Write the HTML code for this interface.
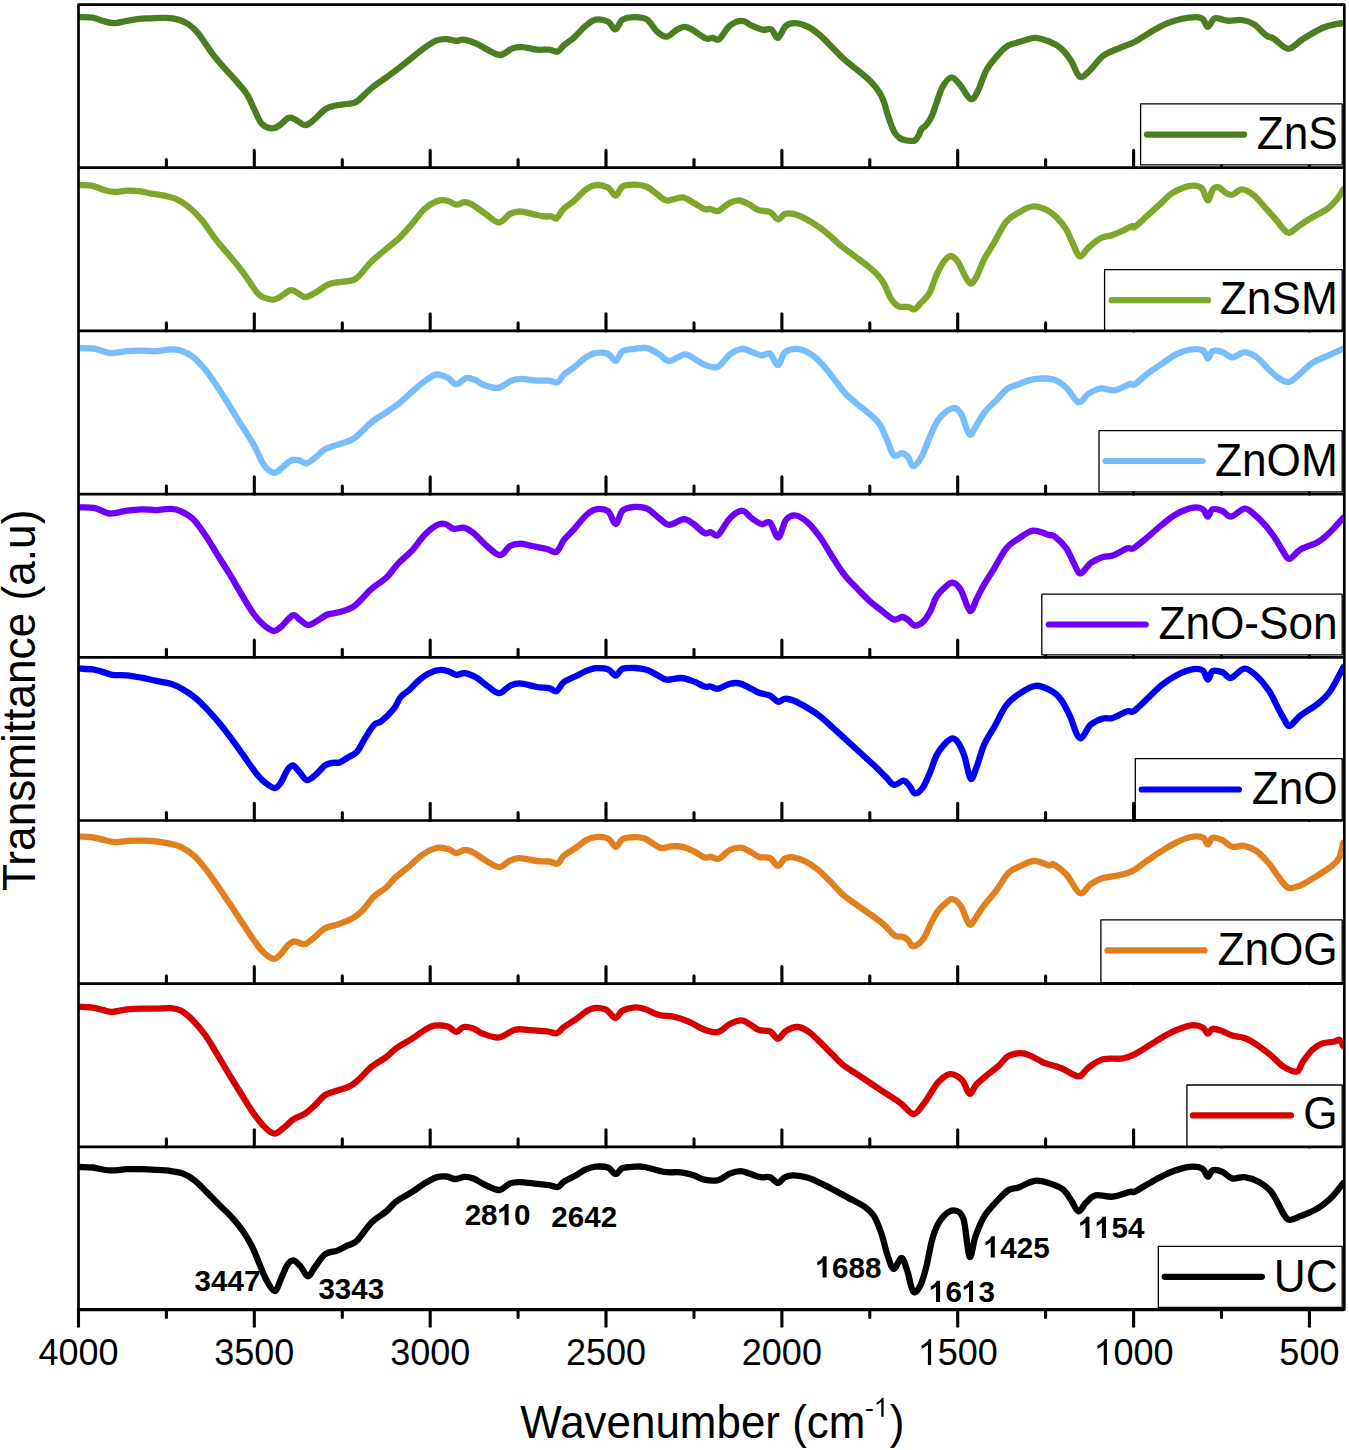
<!DOCTYPE html>
<html><head><meta charset="utf-8"><title>FTIR spectra</title>
<style>
html,body{margin:0;padding:0;background:#fff;}
body{width:1349px;height:1450px;overflow:hidden;}
svg{display:block;font-family:"Liberation Sans",sans-serif;}
</style></head><body>
<svg width="1349" height="1450" viewBox="0 0 1349 1450">
<rect width="1349" height="1450" fill="#fff"/>
<defs><clipPath id="pc"><rect x="78.5" y="4.6" width="1264.8" height="1305"/></clipPath></defs>

<g class="curves" clip-path="url(#pc)" fill="none" stroke-linejoin="round" stroke-linecap="round" stroke-width="6.3">
<path stroke="#4a7e20" d="M79.5 17.1 C81.7 17.2 88.9 17.0 92.7 17.6 C96.5 18.2 99.0 19.9 102.5 20.8 C106.0 21.7 109.4 23.2 113.5 23.2 C117.6 23.2 122.6 21.5 126.9 20.8 C131.2 20.1 135.1 19.2 139.2 18.8 C143.3 18.4 146.9 18.5 151.4 18.3 C155.9 18.1 161.6 17.7 166.1 17.9 C170.6 18.1 174.6 18.6 178.3 19.6 C182.0 20.6 184.8 21.8 188.1 24.0 C191.4 26.2 193.8 28.0 197.9 33.0 C202.0 38.0 208.0 47.9 212.5 53.8 C217.0 59.7 220.7 63.8 224.8 68.5 C228.9 73.2 233.3 77.6 237.0 81.9 C240.7 86.2 244.0 89.7 246.8 94.2 C249.7 98.7 251.7 104.0 254.1 108.9 C256.6 113.8 258.6 120.2 261.5 123.5 C264.4 126.8 268.3 128.0 271.2 128.4 C274.1 128.8 275.7 127.8 278.6 126.0 C281.5 124.2 285.8 119.1 288.4 117.9 C291.0 116.8 291.6 117.9 294.5 119.1 C297.4 120.3 302.0 125.3 305.5 125.2 C309.0 125.1 312.0 121.2 315.3 118.6 C318.6 115.9 321.9 111.4 325.1 109.3 C328.4 107.2 331.1 106.6 334.8 105.7 C338.5 104.8 343.4 104.7 347.1 104.0 C350.8 103.3 352.8 104.2 356.9 101.5 C361.0 98.8 366.2 92.4 371.5 88.1 C376.8 83.8 383.9 79.3 388.7 75.8 C393.4 72.3 396.1 70.3 400.0 67.3 C403.9 64.2 408.1 60.8 412.2 57.5 C416.3 54.2 420.4 50.6 424.5 47.7 C428.6 44.9 433.0 41.8 436.7 40.4 C440.4 39.0 443.2 39.0 446.5 39.1 C449.8 39.2 453.4 40.8 456.3 40.9 C459.2 41.0 460.4 39.2 463.6 39.6 C466.9 40.0 471.7 41.5 475.8 43.3 C479.9 45.0 484.0 48.1 488.1 50.1 C492.2 52.1 496.2 55.3 500.3 55.0 C504.4 54.7 508.8 49.7 512.5 48.4 C516.2 47.1 518.2 47.0 522.3 47.2 C526.4 47.4 532.5 49.3 537.0 49.7 C541.5 50.1 545.7 49.4 549.2 49.7 C552.7 50.0 555.3 52.1 557.8 51.4 C560.2 50.7 561.2 47.5 563.9 45.3 C566.5 43.0 570.0 41.2 573.7 37.9 C577.4 34.6 582.2 28.8 585.9 25.7 C589.6 22.6 592.0 20.3 595.7 19.6 C599.4 18.9 604.6 19.9 607.9 21.5 C611.2 23.1 612.8 29.7 615.3 29.4 C617.8 29.1 619.4 21.7 622.6 19.6 C625.9 17.6 630.7 17.1 634.8 17.1 C638.9 17.1 643.4 17.2 647.1 19.6 C650.8 22.0 653.5 28.4 656.8 31.3 C660.0 34.1 663.3 36.9 666.6 36.7 C669.9 36.5 673.3 31.7 676.4 30.1 C679.5 28.5 682.1 26.8 685.0 26.9 C687.9 27.0 690.0 28.7 693.5 30.6 C697.0 32.5 702.5 37.2 705.8 38.4 C709.1 39.6 710.9 37.8 713.1 37.9 C715.3 38.0 716.4 41.1 719.2 39.1 C722.0 37.1 726.0 28.8 729.8 25.7 C733.6 22.6 738.3 20.8 742.0 20.8 C745.7 20.8 748.3 24.2 751.8 25.7 C755.3 27.2 759.5 29.2 762.8 29.8 C766.1 30.4 768.9 28.0 771.4 29.4 C773.9 30.8 775.6 38.5 778.0 37.9 C780.4 37.3 783.0 28.1 786.0 25.7 C789.0 23.2 792.1 23.0 795.8 23.2 C799.5 23.4 804.0 24.8 808.1 26.9 C812.2 28.9 816.2 32.0 820.3 35.5 C824.4 39.0 828.4 43.6 832.5 47.7 C836.6 51.8 840.7 56.2 844.8 59.9 C848.9 63.6 852.9 66.4 857.0 69.7 C861.1 73.0 865.5 76.3 869.2 80.0 C872.9 83.7 876.6 88.2 879.0 91.7 C881.4 95.2 882.1 97.4 883.6 101.2 C885.1 105.0 886.3 110.5 887.7 114.8 C889.1 119.0 890.6 123.5 891.9 126.7 C893.2 129.9 894.1 131.9 895.4 133.8 C896.7 135.7 897.9 136.9 899.6 138.0 C901.3 139.1 903.6 139.8 905.5 140.3 C907.4 140.8 909.2 140.9 910.8 140.9 C912.4 140.9 913.7 141.2 915.0 140.3 C916.3 139.4 917.5 137.5 918.6 135.6 C919.7 133.7 920.4 130.7 921.5 129.1 C922.6 127.5 923.8 127.5 925.1 126.1 C926.4 124.7 927.9 122.9 929.2 120.8 C930.5 118.7 931.6 116.5 932.8 113.6 C934.0 110.7 934.7 108.1 936.3 103.6 C937.9 99.1 940.1 91.1 942.6 86.8 C945.1 82.5 948.4 77.9 951.2 77.5 C954.1 77.1 956.5 80.8 959.7 84.4 C963.0 88.0 967.6 98.1 970.7 99.1 C973.8 100.1 975.5 95.4 978.1 90.5 C980.8 85.6 983.1 75.8 986.6 69.7 C990.1 63.6 995.2 57.9 998.9 53.8 C1002.6 49.7 1004.9 47.3 1008.6 45.3 C1012.3 43.3 1016.6 42.9 1020.9 41.6 C1025.2 40.4 1029.9 37.8 1034.6 37.8 C1039.3 37.8 1044.8 39.7 1049.3 41.5 C1053.8 43.3 1057.8 45.5 1061.5 48.8 C1065.2 52.0 1068.2 56.3 1071.2 61.0 C1074.2 65.7 1076.8 75.2 1079.8 76.8 C1082.8 78.4 1085.7 74.2 1089.5 70.7 C1093.3 67.2 1098.2 59.8 1102.9 56.1 C1107.6 52.5 1112.3 51.1 1117.6 48.8 C1122.9 46.4 1129.3 44.6 1134.6 42.0 C1139.9 39.4 1144.0 35.9 1149.3 32.9 C1154.6 29.8 1161.0 26.0 1166.3 23.7 C1171.6 21.4 1176.1 20.1 1181.0 19.0 C1185.9 17.9 1191.9 17.1 1195.6 17.1 C1199.2 17.1 1200.9 17.4 1202.9 19.0 C1204.9 20.6 1205.8 26.9 1207.8 26.8 C1209.8 26.7 1211.8 19.3 1215.1 18.3 C1218.3 17.3 1222.8 20.4 1227.3 20.7 C1231.8 21.0 1237.5 19.4 1242.0 20.0 C1246.5 20.6 1250.0 21.8 1254.1 24.4 C1258.1 27.0 1263.0 33.0 1266.3 35.4 C1269.6 37.8 1270.0 36.3 1273.7 38.5 C1277.4 40.7 1283.4 48.7 1288.3 48.8 C1293.2 48.9 1297.2 42.5 1302.9 39.0 C1308.6 35.5 1316.7 30.5 1322.4 28.0 C1328.1 25.5 1333.6 24.7 1337.1 23.9 C1340.6 23.1 1342.2 23.3 1343.2 23.2"/>
<path stroke="#7ea72c" d="M80.4 185.1 C82.5 185.2 88.6 185.0 92.7 185.8 C96.8 186.7 101.2 189.2 104.9 190.2 C108.6 191.2 111.0 191.8 114.7 191.9 C118.4 192.0 122.8 190.8 126.9 190.7 C131.0 190.6 135.1 190.7 139.2 191.2 C143.3 191.7 146.9 192.8 151.4 193.6 C155.9 194.4 161.6 195.0 166.1 196.1 C170.6 197.2 174.2 197.9 178.3 200.0 C182.4 202.1 186.4 204.9 190.5 208.5 C194.6 212.1 198.7 216.3 202.8 221.3 C206.9 226.3 210.9 233.1 215.0 238.4 C219.1 243.7 223.1 248.2 227.2 253.1 C231.3 258.0 235.8 263.0 239.5 267.7 C243.2 272.4 245.9 276.7 249.2 281.2 C252.4 285.7 255.3 291.6 259.0 294.6 C262.7 297.7 267.9 299.0 271.2 299.5 C274.5 300.0 275.3 299.4 278.6 297.8 C281.9 296.2 287.5 290.9 290.8 290.2 C294.1 289.5 295.8 292.2 298.2 293.4 C300.6 294.5 302.6 297.2 305.5 297.1 C308.4 297.0 311.6 294.7 315.3 292.7 C319.0 290.7 323.8 286.6 327.5 284.9 C331.2 283.2 334.0 283.0 337.3 282.4 C340.6 281.8 343.8 281.9 347.1 281.2 C350.4 280.5 352.8 281.3 356.9 278.0 C361.0 274.7 366.2 266.8 371.5 261.6 C376.8 256.4 383.9 251.0 388.7 246.9 C393.4 242.8 396.1 241.1 400.0 237.2 C403.9 233.3 408.1 228.4 412.2 223.7 C416.3 219.0 420.4 212.8 424.5 209.0 C428.6 205.2 433.0 202.6 436.7 201.2 C440.4 199.8 443.2 199.9 446.5 200.5 C449.8 201.1 453.2 204.3 456.3 204.6 C459.4 204.9 462.0 202.1 464.8 202.2 C467.6 202.3 469.9 203.4 473.4 205.4 C476.9 207.4 481.3 211.1 485.6 213.9 C489.9 216.8 495.0 222.5 499.1 222.5 C503.2 222.5 506.6 215.7 510.1 213.9 C513.6 212.1 516.2 211.5 519.9 211.5 C523.6 211.5 528.0 213.1 532.1 213.9 C536.2 214.7 541.0 216.0 544.3 216.4 C547.6 216.8 549.7 216.1 551.7 216.4 C553.8 216.7 554.6 219.6 556.6 218.3 C558.6 217.0 561.0 211.3 563.9 208.5 C566.8 205.7 570.0 204.4 573.7 201.2 C577.4 198.0 582.2 192.2 585.9 189.5 C589.6 186.8 592.0 185.4 595.7 185.1 C599.4 184.8 604.5 185.8 607.9 187.5 C611.2 189.2 613.3 195.8 615.8 195.6 C618.2 195.4 619.4 188.3 622.6 186.5 C625.8 184.7 630.7 184.5 634.8 184.6 C638.9 184.7 643.4 185.4 647.1 187.0 C650.8 188.6 653.5 191.7 656.8 193.9 C660.0 196.2 662.3 199.9 666.6 200.5 C670.9 201.1 678.0 196.9 682.5 197.3 C687.0 197.7 689.8 201.0 693.5 202.9 C697.2 204.8 701.6 208.0 704.5 209.0 C707.4 210.0 708.5 208.7 710.7 209.0 C713.0 209.3 714.8 212.0 718.0 211.0 C721.2 210.0 726.2 204.7 729.8 202.9 C733.4 201.2 736.3 200.2 739.6 200.5 C742.9 200.8 746.1 203.0 749.4 204.6 C752.6 206.2 755.6 209.1 759.1 210.3 C762.6 211.5 767.0 210.5 770.1 212.0 C773.2 213.5 775.5 219.0 778.0 219.3 C780.5 219.6 782.2 214.8 784.8 213.9 C787.4 213.0 789.9 213.1 793.4 213.9 C796.9 214.7 801.5 216.8 805.6 218.8 C809.7 220.9 813.7 223.3 817.8 226.2 C821.9 229.0 826.0 232.4 830.1 235.9 C834.2 239.4 838.2 243.6 842.3 246.9 C846.4 250.2 850.4 252.9 854.5 256.0 C858.6 259.1 863.1 262.3 866.8 265.3 C870.5 268.3 873.8 270.8 876.6 273.9 C879.5 276.9 881.5 279.4 883.9 283.6 C886.3 287.8 888.8 295.3 891.2 299.1 C893.7 302.9 895.7 305.1 898.6 306.4 C901.5 307.7 905.8 306.4 908.4 306.9 C911.0 307.4 912.5 309.9 914.5 309.3 C916.5 308.7 918.1 305.9 920.6 303.2 C923.1 300.5 926.6 298.1 929.2 293.4 C931.9 288.7 934.1 280.4 936.5 275.1 C938.9 269.8 941.3 264.8 943.8 261.6 C946.2 258.4 948.8 255.8 951.2 256.0 C953.7 256.2 956.3 259.6 958.5 262.8 C960.7 266.0 962.6 271.6 964.6 275.1 C966.6 278.6 968.7 283.4 970.7 283.6 C972.7 283.8 974.5 280.4 976.8 276.3 C979.0 272.2 981.3 264.8 984.2 259.2 C987.1 253.6 990.3 249.0 994.0 242.8 C997.7 236.6 1002.1 226.8 1006.2 221.8 C1010.3 216.8 1014.1 215.2 1018.4 212.7 C1022.7 210.1 1027.9 207.1 1032.2 206.5 C1036.5 205.9 1040.3 207.1 1044.4 208.9 C1048.5 210.7 1052.9 214.0 1056.6 217.4 C1060.2 220.8 1063.4 224.9 1066.3 229.6 C1069.2 234.3 1071.5 241.0 1073.7 245.5 C1076.0 250.0 1077.4 256.1 1079.8 256.5 C1082.2 256.9 1084.8 251.0 1088.3 247.9 C1091.8 244.8 1096.4 240.3 1100.5 238.2 C1104.6 236.0 1108.6 236.4 1112.7 235.0 C1116.8 233.6 1121.7 231.1 1124.9 229.6 C1128.2 228.1 1130.6 226.4 1132.2 226.0 C1133.8 225.6 1132.2 228.8 1134.6 227.2 C1137.0 225.6 1142.7 219.9 1146.8 216.2 C1150.9 212.5 1154.9 208.9 1159.0 205.2 C1163.1 201.5 1167.1 196.7 1171.2 193.8 C1175.3 190.9 1179.7 189.0 1183.4 187.7 C1187.1 186.3 1190.2 185.6 1193.2 185.7 C1196.2 185.8 1199.3 185.8 1201.7 188.2 C1204.1 190.6 1206.0 200.2 1207.8 200.4 C1209.6 200.6 1210.9 191.6 1212.7 189.4 C1214.5 187.2 1216.6 186.8 1218.8 187.4 C1221.0 188.0 1223.9 191.8 1226.1 193.0 C1228.3 194.2 1229.5 195.4 1232.2 194.8 C1234.9 194.2 1238.3 189.3 1242.0 189.4 C1245.7 189.5 1250.0 192.2 1254.1 195.5 C1258.1 198.8 1262.6 204.8 1266.3 208.9 C1270.0 213.0 1273.2 216.6 1276.1 219.9 C1278.9 223.2 1281.2 226.8 1283.4 228.9 C1285.6 231.1 1286.7 233.5 1289.5 232.8 C1292.3 232.1 1296.6 227.4 1300.5 224.8 C1304.4 222.2 1308.2 219.7 1312.7 217.0 C1317.2 214.3 1323.2 211.9 1327.3 208.9 C1331.4 205.9 1334.4 202.3 1337.1 199.1 C1339.8 195.8 1342.2 191.0 1343.2 189.4"/>
<path stroke="#78befc" d="M80.4 348.1 C82.9 348.2 90.2 348.0 95.1 348.8 C100.0 349.6 104.5 352.6 109.8 353.0 C115.1 353.4 121.6 351.6 126.9 351.2 C132.2 350.8 136.7 350.7 141.6 350.7 C146.5 350.7 151.4 351.4 156.3 351.2 C161.2 351.0 166.9 349.4 171.0 349.3 C175.1 349.2 177.0 349.2 180.7 350.5 C184.4 351.8 188.9 353.7 193.0 356.9 C197.1 360.1 201.1 364.6 205.2 369.6 C209.3 374.6 213.3 380.6 217.4 386.7 C221.5 392.8 225.6 399.8 229.7 406.3 C233.8 412.8 237.8 419.3 241.9 425.8 C246.0 432.3 250.4 438.9 254.1 445.4 C257.8 451.9 260.6 460.4 263.9 465.0 C267.2 469.6 270.8 472.2 273.7 472.8 C276.6 473.4 278.1 470.7 281.0 468.7 C283.9 466.7 287.9 462.0 290.8 460.6 C293.7 459.2 295.6 459.7 298.2 460.1 C300.8 460.6 303.8 463.7 306.7 463.3 C309.6 462.9 312.2 460.0 315.3 457.6 C318.4 455.2 321.4 451.2 325.1 449.1 C328.8 447.0 332.4 446.7 337.3 444.9 C342.2 443.1 348.7 441.9 354.4 438.1 C360.1 434.3 366.2 426.5 371.5 422.2 C376.8 417.9 381.4 415.7 386.2 412.4 C390.9 409.1 395.7 406.1 400.0 402.6 C404.3 399.1 408.1 395.2 412.2 391.6 C416.3 388.1 420.4 384.2 424.5 381.3 C428.6 378.4 432.6 374.9 436.7 374.5 C440.8 374.1 445.6 377.0 448.9 378.6 C452.2 380.2 453.4 384.4 456.3 384.3 C459.2 384.2 462.8 378.8 466.0 378.1 C469.2 377.4 472.9 379.0 475.8 380.1 C478.7 381.2 479.5 383.5 483.2 384.8 C486.9 386.1 493.3 388.5 497.8 387.9 C502.3 387.3 506.4 382.8 510.1 381.3 C513.8 379.8 515.4 379.0 519.9 378.9 C524.4 378.8 532.1 380.3 537.0 380.6 C541.9 380.9 545.7 380.3 549.2 380.6 C552.7 380.9 555.3 383.3 557.8 382.3 C560.2 381.3 561.2 376.9 563.9 374.5 C566.5 372.1 570.0 370.5 573.7 367.6 C577.4 364.8 582.2 359.8 585.9 357.4 C589.6 355.0 592.0 353.6 595.7 353.0 C599.4 352.4 604.5 352.4 607.9 353.7 C611.2 355.0 613.3 361.4 615.8 361.0 C618.2 360.6 619.4 353.2 622.6 351.2 C625.8 349.2 630.7 349.3 634.8 348.8 C638.9 348.3 643.0 347.2 647.1 348.1 C651.2 349.0 655.6 352.2 659.3 354.4 C663.0 356.5 664.8 361.0 669.1 361.0 C673.4 361.0 680.5 354.6 685.0 354.4 C689.5 354.2 692.5 358.0 696.0 359.8 C699.5 361.6 702.1 364.1 705.8 365.2 C709.5 366.3 714.0 368.5 718.0 366.7 C722.0 364.9 725.8 357.4 729.8 354.4 C733.8 351.4 738.3 349.2 742.0 348.8 C745.7 348.4 748.5 350.9 751.8 352.0 C755.1 353.1 758.5 355.1 761.6 355.4 C764.7 355.7 767.4 352.1 770.1 353.7 C772.8 355.3 775.5 365.4 778.0 365.2 C780.5 365.0 781.8 355.2 784.8 352.5 C787.8 349.8 791.9 348.8 795.8 348.8 C799.7 348.8 804.0 350.3 808.1 352.5 C812.2 354.7 816.2 358.1 820.3 362.2 C824.4 366.3 828.4 371.8 832.5 376.9 C836.6 382.0 840.7 388.3 844.8 392.8 C848.9 397.3 852.9 400.3 857.0 403.8 C861.1 407.3 865.5 410.3 869.2 413.6 C872.9 416.9 876.1 419.3 879.0 423.4 C881.9 427.5 883.8 432.8 886.3 438.1 C888.8 443.4 891.1 452.7 893.7 455.2 C896.4 457.7 899.8 452.8 902.2 453.2 C904.7 453.6 906.5 455.4 908.4 457.6 C910.2 459.8 911.1 466.4 913.3 466.2 C915.5 466.0 918.9 461.5 921.8 456.4 C924.6 451.3 927.5 441.8 930.4 435.6 C933.2 429.4 935.2 423.6 938.9 419.0 C942.6 414.4 948.7 409.1 952.4 408.2 C956.1 407.3 958.0 409.2 960.9 413.6 C963.8 418.0 966.9 432.6 969.5 434.4 C972.1 436.2 974.1 428.5 976.8 424.6 C979.4 420.7 982.1 415.3 985.4 411.2 C988.7 407.1 992.7 403.9 996.4 400.2 C1000.1 396.4 1003.7 391.3 1007.4 388.7 C1011.1 386.1 1013.9 385.9 1018.4 384.3 C1022.9 382.7 1028.6 380.0 1034.6 379.2 C1040.5 378.4 1048.8 378.3 1054.1 379.7 C1059.4 381.1 1062.2 384.0 1066.3 387.8 C1070.4 391.6 1074.8 401.4 1078.5 402.4 C1082.2 403.4 1084.6 396.2 1088.3 393.9 C1092.0 391.6 1096.0 389.1 1100.5 388.5 C1105.0 387.9 1110.2 390.9 1115.1 390.2 C1120.0 389.5 1126.5 385.0 1129.8 384.1 C1133.0 383.2 1131.8 386.2 1134.6 384.6 C1137.4 383.0 1142.3 377.7 1146.8 374.3 C1151.3 370.9 1156.6 367.4 1161.5 364.1 C1166.4 360.8 1171.2 356.7 1176.1 354.3 C1181.0 351.9 1186.2 350.1 1190.7 349.5 C1195.2 348.9 1200.1 348.9 1202.9 350.4 C1205.8 351.9 1206.2 358.4 1207.8 358.5 C1209.4 358.6 1210.3 352.3 1212.7 351.2 C1215.1 350.1 1219.2 350.9 1222.4 351.9 C1225.7 352.9 1228.5 357.2 1232.2 357.3 C1235.9 357.4 1240.3 352.4 1244.4 352.4 C1248.5 352.4 1252.5 354.4 1256.6 357.3 C1260.7 360.2 1265.1 366.1 1268.8 369.5 C1272.5 372.9 1275.2 375.9 1278.5 378.0 C1281.8 380.1 1285.0 382.5 1288.3 382.1 C1291.5 381.7 1293.9 378.9 1298.0 375.6 C1302.1 372.4 1307.8 365.9 1312.7 362.6 C1317.6 359.3 1322.2 358.3 1327.3 356.0 C1332.4 353.7 1340.5 349.9 1343.2 348.7"/>
<path stroke="#6e00fa" d="M80.4 507.4 C82.9 507.5 90.2 507.1 95.1 508.1 C100.0 509.1 104.5 513.1 109.8 513.5 C115.1 513.9 121.6 511.3 126.9 510.6 C132.2 509.9 136.7 509.4 141.6 509.3 C146.5 509.2 151.4 510.2 156.3 510.1 C161.2 510.0 166.9 508.7 171.0 508.9 C175.1 509.1 177.0 509.4 180.7 511.1 C184.4 512.8 188.9 515.1 193.0 519.1 C197.1 523.1 201.1 529.1 205.2 535.0 C209.3 540.9 213.3 548.1 217.4 554.6 C221.5 561.1 225.6 567.5 229.7 574.2 C233.8 580.9 237.8 588.3 241.9 595.0 C246.0 601.7 250.4 609.5 254.1 614.5 C257.8 619.5 260.6 622.4 263.9 625.1 C267.2 627.9 270.8 630.7 273.7 631.0 C276.6 631.3 277.8 629.4 281.0 626.8 C284.2 624.2 289.7 616.5 292.8 615.3 C295.9 614.1 296.9 617.8 299.4 619.4 C301.9 621.0 304.9 624.9 308.0 625.1 C311.1 625.3 314.4 622.4 317.7 620.6 C320.9 618.8 323.8 615.9 327.5 614.5 C331.2 613.1 335.2 613.5 339.7 612.1 C344.2 610.7 349.1 609.9 354.4 606.0 C359.7 602.1 366.2 593.5 371.5 588.8 C376.8 584.1 381.7 582.1 386.2 577.8 C390.7 573.5 394.2 567.8 398.5 563.2 C402.8 558.6 407.9 555.1 412.2 550.4 C416.5 545.7 420.4 539.2 424.5 535.0 C428.6 530.8 433.2 527.0 436.7 525.2 C440.2 523.4 442.4 523.4 445.3 524.0 C448.2 524.6 450.8 528.3 453.8 528.9 C456.9 529.5 460.3 527.0 463.6 527.7 C466.9 528.4 469.7 530.2 473.4 533.1 C477.1 536.0 481.2 541.1 485.6 544.8 C490.0 548.5 495.7 554.9 499.8 555.1 C503.9 555.3 506.8 547.9 510.1 546.0 C513.5 544.1 516.2 543.6 519.9 543.6 C523.6 543.6 527.6 545.1 532.1 546.0 C536.6 546.9 542.7 548.0 546.8 549.0 C550.9 550.0 553.8 553.2 556.6 551.7 C559.5 550.2 561.0 543.6 563.9 539.9 C566.8 536.2 570.0 533.7 573.7 529.6 C577.4 525.5 582.2 518.9 585.9 515.5 C589.6 512.1 592.0 510.0 595.7 509.3 C599.4 508.6 604.5 508.7 607.9 511.1 C611.2 513.6 613.3 524.1 615.8 524.0 C618.2 523.9 619.4 513.5 622.6 510.6 C625.8 507.8 630.7 507.2 634.8 506.9 C638.9 506.6 643.0 506.7 647.1 508.6 C651.2 510.5 655.6 515.7 659.3 518.4 C663.0 521.1 665.0 524.7 669.1 524.8 C673.2 524.9 679.7 519.2 683.8 519.1 C687.9 519.0 690.0 521.7 693.5 524.0 C697.0 526.3 701.6 531.8 704.5 533.1 C707.4 534.5 708.5 531.8 710.7 532.1 C713.0 532.4 714.8 537.3 718.0 535.0 C721.2 532.7 725.8 522.5 729.8 518.4 C733.8 514.3 738.3 510.6 742.0 510.6 C745.7 510.6 748.5 516.2 751.8 518.4 C755.1 520.6 758.5 523.3 761.6 524.0 C764.7 524.7 767.3 520.5 770.1 522.8 C772.9 525.0 775.6 538.0 778.2 537.5 C780.9 537.0 783.1 523.6 786.0 519.9 C788.9 516.2 792.1 515.0 795.8 515.5 C799.5 516.0 804.0 519.1 808.1 522.8 C812.2 526.5 816.2 531.8 820.3 537.5 C824.4 543.2 828.4 550.7 832.5 557.0 C836.6 563.3 840.7 570.2 844.8 575.4 C848.9 580.6 852.9 584.2 857.0 588.4 C861.1 592.6 865.1 596.9 869.2 600.6 C873.3 604.3 877.3 607.3 881.4 610.4 C885.5 613.5 890.2 618.3 893.7 619.4 C897.2 620.5 899.8 616.9 902.2 617.0 C904.7 617.1 906.4 618.8 908.4 620.2 C910.4 621.6 912.1 625.2 914.5 625.5 C916.9 625.8 920.4 624.3 923.0 621.9 C925.6 619.5 928.1 615.1 930.4 610.9 C932.6 606.7 934.3 600.5 936.5 596.7 C938.7 593.0 941.1 590.7 943.8 588.4 C946.4 586.1 949.5 582.4 952.4 582.7 C955.2 583.0 958.0 585.4 960.9 590.1 C963.8 594.8 967.4 609.5 970.0 610.9 C972.6 612.3 974.4 603.0 976.8 598.6 C979.2 594.2 981.3 589.4 984.2 584.4 C987.1 579.4 990.3 574.8 994.0 568.8 C997.7 562.8 1002.1 553.5 1006.2 548.5 C1010.3 543.5 1013.9 541.7 1018.4 538.7 C1022.9 535.7 1028.0 531.2 1033.1 530.6 C1038.2 530.0 1045.5 534.1 1049.0 535.0 C1052.5 535.9 1051.2 533.9 1054.1 536.1 C1057.0 538.3 1063.0 543.8 1066.3 548.3 C1069.6 552.8 1071.3 558.8 1073.7 563.0 C1076.1 567.2 1077.7 573.4 1080.5 573.4 C1083.3 573.4 1087.0 565.8 1090.7 563.0 C1094.4 560.2 1099.2 558.1 1102.9 556.9 C1106.6 555.7 1108.6 557.0 1112.7 555.6 C1116.8 554.2 1123.8 549.5 1127.3 548.3 C1130.8 547.1 1130.2 550.0 1133.4 548.3 C1136.7 546.5 1142.1 541.7 1146.8 537.8 C1151.5 533.9 1156.6 529.0 1161.5 525.1 C1166.4 521.2 1170.8 517.1 1176.1 514.2 C1181.4 511.3 1188.7 508.4 1193.2 507.6 C1197.7 506.8 1200.5 507.8 1202.9 509.3 C1205.3 510.8 1206.2 516.6 1207.8 516.6 C1209.4 516.6 1210.3 510.2 1212.7 509.3 C1215.1 508.4 1219.4 509.8 1222.4 511.0 C1225.5 512.2 1227.3 517.0 1231.0 516.6 C1234.7 516.2 1240.6 509.0 1244.4 508.6 C1248.2 508.2 1250.4 511.2 1254.1 514.2 C1257.8 517.2 1262.6 522.1 1266.3 526.4 C1270.0 530.7 1273.2 535.5 1276.1 539.8 C1278.9 544.1 1281.2 548.8 1283.4 552.0 C1285.6 555.2 1286.7 559.2 1289.5 558.8 C1292.3 558.4 1295.8 552.3 1300.5 549.5 C1305.2 546.7 1312.7 545.0 1317.6 542.2 C1322.5 539.4 1325.5 536.6 1329.8 532.5 C1334.1 528.4 1341.0 520.2 1343.2 517.8"/>
<path stroke="#0000fa" d="M80.4 668.7 C82.5 668.8 89.0 668.9 92.7 669.4 C96.4 669.9 99.2 671.0 102.5 671.9 C105.8 672.8 108.1 674.2 112.2 674.8 C116.3 675.4 122.0 674.8 126.9 675.3 C131.8 675.8 136.7 676.8 141.6 677.7 C146.5 678.6 151.4 679.9 156.3 680.9 C161.2 681.9 166.5 682.4 171.0 683.8 C175.5 685.2 179.1 687.1 183.2 689.5 C187.3 691.9 191.3 694.6 195.4 698.0 C199.5 701.4 203.5 705.5 207.6 709.8 C211.7 714.1 215.8 718.7 219.9 723.7 C224.0 728.7 228.0 734.1 232.1 739.6 C236.2 745.1 240.2 751.0 244.3 756.7 C248.4 762.4 252.9 769.4 256.6 773.9 C260.3 778.4 263.3 781.2 266.4 783.6 C269.4 786.0 272.5 788.3 274.9 788.1 C277.3 787.9 278.9 785.4 281.0 782.4 C283.1 779.4 285.2 773.1 287.2 770.2 C289.2 767.4 290.8 765.0 292.8 765.3 C294.8 765.6 297.1 769.4 299.4 771.9 C301.7 774.4 304.0 779.5 306.7 780.0 C309.4 780.5 312.2 777.6 315.3 775.1 C318.4 772.6 322.2 767.3 325.1 765.3 C328.0 763.3 330.0 763.4 332.4 762.9 C334.8 762.4 337.2 763.2 339.7 762.4 C342.1 761.6 344.2 759.8 347.1 758.0 C350.0 756.2 354.0 754.9 356.9 751.8 C359.8 748.7 361.3 744.1 364.2 739.6 C367.1 735.1 371.1 728.0 374.0 724.9 C376.9 721.8 378.0 723.9 381.3 721.3 C384.6 718.6 390.3 713.1 393.6 709.0 C396.9 704.9 398.2 700.0 400.9 696.8 C403.6 693.5 406.7 692.4 409.8 689.5 C412.9 686.6 416.3 682.4 419.6 679.7 C422.9 677.0 425.9 674.7 429.4 673.1 C432.9 671.5 437.1 670.1 440.4 669.9 C443.6 669.6 446.2 670.8 448.9 671.6 C451.5 672.4 453.6 674.5 456.3 674.8 C459.0 675.0 461.6 672.7 464.8 673.1 C468.1 673.5 471.9 675.0 475.8 677.2 C479.7 679.4 484.2 683.9 488.1 686.5 C492.0 689.1 495.4 693.2 499.1 693.1 C502.8 693.0 506.6 687.4 510.1 685.8 C513.6 684.2 515.4 683.2 519.9 683.4 C524.4 683.6 532.1 686.2 537.0 687.0 C541.9 687.8 545.9 687.5 549.2 688.2 C552.5 688.9 554.2 692.2 556.6 691.2 C559.0 690.2 560.6 684.6 563.9 682.1 C567.1 679.6 572.4 677.8 576.1 676.0 C579.8 674.2 582.6 672.4 585.9 671.1 C589.2 669.8 592.0 668.5 595.7 668.2 C599.4 667.9 604.5 668.0 607.9 669.2 C611.2 670.4 613.3 675.6 615.8 675.5 C618.2 675.4 619.4 670.0 622.6 668.7 C625.8 667.5 630.7 667.8 634.8 668.0 C638.9 668.2 643.4 668.8 647.1 669.9 C650.8 671.0 653.5 673.2 656.8 674.8 C660.0 676.4 662.5 679.2 666.6 679.7 C670.7 680.2 676.8 677.7 681.3 678.0 C685.8 678.3 689.6 680.0 693.5 681.4 C697.4 682.8 701.6 685.6 704.5 686.5 C707.4 687.4 708.5 686.1 710.7 686.5 C713.0 686.9 714.8 689.2 718.0 688.7 C721.2 688.2 726.2 684.7 729.8 683.8 C733.4 682.9 736.3 682.7 739.6 683.4 C742.9 684.1 746.1 686.2 749.4 687.8 C752.6 689.3 755.6 691.4 759.1 692.7 C762.6 694.0 767.0 694.1 770.1 695.6 C773.2 697.1 775.5 701.2 778.0 701.7 C780.5 702.2 782.2 699.0 784.8 698.8 C787.4 698.6 789.5 698.9 793.4 700.5 C797.3 702.1 803.6 705.6 808.1 708.3 C812.6 710.9 816.2 713.2 820.3 716.4 C824.4 719.6 828.0 723.3 832.5 727.4 C837.0 731.5 842.3 736.3 847.2 740.8 C852.1 745.3 857.0 749.8 861.9 754.3 C866.8 758.8 872.5 763.8 876.6 767.7 C880.7 771.6 883.4 774.6 886.3 777.5 C889.2 780.4 891.3 784.4 894.2 784.9 C897.1 785.4 900.9 780.5 903.5 780.7 C906.1 780.9 907.7 784.0 909.6 786.1 C911.5 788.2 912.8 793.2 915.0 793.4 C917.2 793.6 920.4 791.0 923.0 787.3 C925.6 783.6 928.1 776.7 930.4 771.4 C932.6 766.1 934.3 759.9 936.5 755.5 C938.7 751.1 941.1 747.9 943.8 745.0 C946.4 742.1 949.9 738.7 952.4 738.4 C954.9 738.1 956.5 740.2 958.5 743.3 C960.5 746.3 962.6 750.8 964.6 756.7 C966.6 762.6 968.7 777.2 970.7 778.8 C972.7 780.4 974.5 772.2 976.8 766.5 C979.0 760.8 981.3 751.0 984.2 744.5 C987.1 738.0 990.3 733.9 994.0 727.4 C997.7 720.9 1002.1 710.9 1006.2 705.4 C1010.3 699.9 1013.5 697.7 1018.4 694.4 C1023.3 691.1 1030.0 686.3 1035.6 685.8 C1041.1 685.2 1047.4 688.7 1051.7 691.1 C1056.0 693.5 1058.5 696.1 1061.5 700.3 C1064.5 704.5 1067.0 709.9 1070.0 716.2 C1073.0 722.5 1076.3 736.7 1079.8 738.1 C1083.2 739.5 1086.8 728.0 1090.7 724.7 C1094.6 721.5 1099.2 719.7 1102.9 718.6 C1106.6 717.5 1108.6 719.1 1112.7 717.9 C1116.8 716.7 1123.8 712.4 1127.3 711.3 C1130.8 710.2 1130.2 713.3 1133.4 711.3 C1136.7 709.3 1142.1 703.5 1146.8 699.1 C1151.5 694.8 1156.6 689.1 1161.5 685.2 C1166.4 681.3 1170.8 678.2 1176.1 675.5 C1181.4 672.8 1188.7 669.9 1193.2 669.1 C1197.7 668.3 1200.5 668.9 1202.9 670.6 C1205.3 672.4 1206.2 679.5 1207.8 679.6 C1209.4 679.7 1210.3 672.3 1212.7 671.1 C1215.1 669.9 1219.4 671.2 1222.4 672.3 C1225.5 673.4 1227.3 678.5 1231.0 677.9 C1234.7 677.3 1240.1 668.9 1244.4 668.6 C1248.7 668.3 1252.5 672.3 1256.6 676.0 C1260.7 679.7 1265.1 685.1 1268.8 690.6 C1272.5 696.1 1275.9 704.0 1278.5 708.9 C1281.1 713.8 1282.8 717.0 1284.6 719.9 C1286.4 722.8 1286.8 726.7 1289.5 726.0 C1292.2 725.3 1295.8 719.2 1300.5 715.5 C1305.2 711.8 1312.7 708.0 1317.6 704.0 C1322.5 700.0 1325.5 697.9 1329.8 691.8 C1334.1 685.7 1341.0 671.5 1343.2 667.4"/>
<path stroke="#e0801e" d="M80.4 836.6 C82.5 836.7 89.0 836.8 92.7 837.3 C96.4 837.8 98.8 838.9 102.5 839.7 C106.2 840.5 110.6 842.0 114.7 842.2 C118.8 842.4 122.4 841.2 126.9 841.0 C131.4 840.8 136.7 840.6 141.6 840.7 C146.5 840.8 151.8 841.0 156.3 841.5 C160.8 842.0 164.4 842.5 168.5 843.4 C172.6 844.3 176.6 844.9 180.7 846.8 C184.8 848.7 188.9 851.3 193.0 854.9 C197.1 858.5 201.1 863.3 205.2 868.4 C209.3 873.5 213.3 879.6 217.4 885.5 C221.5 891.4 225.6 897.7 229.7 903.8 C233.8 909.9 237.8 916.1 241.9 922.2 C246.0 928.3 250.4 935.4 254.1 940.5 C257.8 945.6 260.6 949.7 263.9 952.8 C267.2 955.9 270.8 958.7 273.7 958.9 C276.6 959.1 278.6 956.4 281.0 954.0 C283.4 951.6 286.1 946.8 288.4 944.7 C290.6 942.6 291.9 941.4 294.5 941.3 C297.1 941.2 301.2 944.6 304.3 944.2 C307.4 943.8 309.3 941.4 312.8 938.8 C316.3 936.1 321.0 930.7 325.1 928.3 C329.2 925.9 332.8 926.2 337.3 924.6 C341.8 923.0 347.9 920.7 352.0 918.5 C356.1 916.3 358.1 914.9 361.8 911.2 C365.5 907.5 369.9 900.5 374.0 896.5 C378.1 892.5 382.5 890.8 386.2 887.5 C389.9 884.2 392.1 880.5 396.0 876.9 C399.9 873.3 405.9 869.2 409.8 865.9 C413.7 862.6 416.3 859.5 419.6 856.9 C422.9 854.3 426.1 852.0 429.4 850.5 C432.6 849.0 435.9 847.8 439.1 847.6 C442.4 847.4 446.0 848.4 448.9 849.3 C451.8 850.2 453.6 853.1 456.3 853.2 C459.0 853.3 462.0 850.1 464.8 850.0 C467.6 849.9 469.9 850.8 473.4 852.5 C476.9 854.2 481.3 858.1 485.6 860.5 C489.9 862.9 495.0 867.1 499.1 867.1 C503.2 867.1 506.6 862.0 510.1 860.5 C513.6 859.0 515.4 858.0 519.9 858.1 C524.4 858.2 532.1 860.4 537.0 861.0 C541.9 861.6 545.7 861.1 549.2 861.5 C552.7 861.9 555.3 864.5 557.8 863.5 C560.2 862.5 560.8 858.4 563.9 855.7 C567.0 853.1 572.4 850.2 576.1 847.6 C579.8 845.0 582.6 842.0 585.9 840.2 C589.2 838.5 592.0 837.4 595.7 837.1 C599.4 836.8 604.5 836.9 607.9 838.5 C611.2 840.1 613.3 846.7 615.8 846.8 C618.2 846.9 619.4 840.6 622.6 839.0 C625.8 837.4 631.1 837.2 634.8 837.1 C638.5 837.0 641.3 837.3 644.6 838.5 C647.9 839.7 651.5 842.8 654.4 844.4 C657.2 846.0 658.9 847.8 661.7 848.1 C664.6 848.4 668.0 846.6 671.5 846.4 C675.0 846.2 678.8 846.0 682.5 846.8 C686.2 847.6 689.8 849.4 693.5 851.2 C697.2 853.0 701.6 856.5 704.5 857.4 C707.4 858.3 708.2 856.7 710.7 856.9 C713.2 857.1 716.0 859.8 719.2 858.6 C722.4 857.5 726.2 851.8 729.8 850.0 C733.4 848.2 737.5 847.4 740.8 847.6 C744.1 847.8 746.3 849.7 749.4 851.2 C752.5 852.8 755.6 855.8 759.1 856.9 C762.6 858.0 767.0 856.6 770.1 858.1 C773.2 859.6 775.5 865.8 778.0 865.9 C780.5 866.0 782.2 860.0 784.8 858.6 C787.4 857.2 789.9 856.9 793.4 857.4 C796.9 857.9 801.5 859.5 805.6 861.5 C809.7 863.5 813.7 866.3 817.8 869.6 C821.9 872.9 826.0 877.2 830.1 881.3 C834.2 885.4 837.8 890.1 842.3 894.1 C846.8 898.1 852.1 901.6 857.0 905.1 C861.9 908.6 867.2 912.0 871.7 915.3 C876.2 918.5 880.0 921.2 883.9 924.6 C887.8 928.0 891.6 933.6 894.9 935.6 C898.2 937.6 901.2 936.1 903.5 936.9 C905.8 937.7 906.8 939.0 908.4 940.5 C910.0 942.0 910.9 946.4 913.3 946.2 C915.7 946.0 920.1 942.9 923.0 939.3 C925.9 935.7 927.9 929.3 930.4 924.6 C932.9 919.9 935.3 914.7 937.7 911.2 C940.1 907.7 942.5 905.8 945.0 903.8 C947.5 901.8 949.8 898.6 952.4 899.0 C955.0 899.4 958.0 902.0 960.9 906.3 C963.8 910.6 966.9 923.0 969.5 924.6 C972.1 926.2 974.3 919.4 976.8 916.1 C979.2 912.9 980.9 909.4 984.2 905.1 C987.5 900.8 992.3 895.8 996.4 890.4 C1000.5 885.0 1004.5 876.9 1008.6 872.8 C1012.7 868.7 1016.6 867.9 1020.9 865.9 C1025.2 863.9 1029.9 861.0 1034.6 860.9 C1039.3 860.8 1045.8 864.8 1049.0 865.4 C1052.2 866.0 1051.2 863.1 1054.1 864.6 C1057.0 866.1 1062.0 869.5 1066.3 874.3 C1070.6 879.0 1075.7 891.5 1079.8 893.1 C1083.9 894.7 1086.8 886.6 1090.7 884.1 C1094.6 881.6 1098.4 879.4 1102.9 878.0 C1107.4 876.6 1112.7 876.6 1117.6 875.5 C1122.5 874.4 1127.3 873.5 1132.2 871.1 C1137.1 868.7 1141.9 864.2 1146.8 860.9 C1151.7 857.6 1156.6 854.1 1161.5 851.1 C1166.4 848.1 1171.2 845.0 1176.1 842.6 C1181.0 840.2 1186.2 837.8 1190.7 837.0 C1195.2 836.2 1200.1 836.5 1202.9 837.7 C1205.8 838.9 1206.2 844.3 1207.8 844.3 C1209.4 844.3 1210.3 838.4 1212.7 837.7 C1215.1 837.0 1219.2 838.7 1222.4 840.2 C1225.7 841.7 1228.5 845.9 1232.2 846.8 C1235.9 847.7 1240.3 845.1 1244.4 845.8 C1248.5 846.5 1252.5 848.2 1256.6 851.1 C1260.7 854.0 1265.1 859.0 1268.8 863.3 C1272.5 867.6 1275.2 872.7 1278.5 876.8 C1281.8 880.9 1284.6 886.3 1288.3 887.7 C1292.0 889.1 1295.6 887.3 1300.5 885.3 C1305.4 883.3 1312.3 878.8 1317.6 875.5 C1322.9 872.2 1328.5 868.8 1332.2 865.8 C1335.9 862.8 1337.7 861.1 1339.5 857.2 C1341.3 853.3 1342.6 845.0 1343.2 842.6"/>
<path stroke="#d60000" d="M80.4 1006.9 C82.5 1007.0 89.0 1007.1 92.7 1007.6 C96.4 1008.1 99.2 1009.1 102.5 1009.8 C105.8 1010.5 108.1 1011.9 112.2 1011.8 C116.3 1011.7 122.0 1009.9 126.9 1009.4 C131.8 1008.9 136.7 1008.7 141.6 1008.6 C146.5 1008.5 151.4 1008.7 156.3 1008.6 C161.2 1008.5 166.9 1007.8 171.0 1008.1 C175.1 1008.4 177.0 1008.6 180.7 1010.6 C184.4 1012.6 188.9 1016.3 193.0 1020.4 C197.1 1024.5 201.1 1029.3 205.2 1035.0 C209.3 1040.7 213.3 1047.9 217.4 1054.6 C221.5 1061.3 225.6 1068.7 229.7 1075.4 C233.8 1082.1 237.8 1088.5 241.9 1095.0 C246.0 1101.5 250.0 1108.5 254.1 1114.1 C258.2 1119.7 262.9 1125.5 266.4 1128.7 C269.9 1132.0 272.0 1133.7 274.9 1133.6 C277.8 1133.5 280.4 1130.4 283.5 1128.0 C286.6 1125.6 289.6 1121.9 293.3 1119.4 C297.0 1117.0 301.8 1115.7 305.5 1113.3 C309.2 1110.9 312.0 1107.8 315.3 1104.8 C318.6 1101.8 321.4 1097.4 325.1 1095.0 C328.8 1092.6 333.2 1092.0 337.3 1090.6 C341.4 1089.2 345.8 1088.3 349.5 1086.4 C353.2 1084.5 355.6 1082.4 359.3 1079.1 C363.0 1075.8 367.0 1070.5 371.5 1066.8 C376.0 1063.1 382.1 1060.1 386.2 1057.1 C390.3 1054.0 391.7 1051.6 396.0 1048.5 C400.3 1045.4 407.4 1041.8 412.2 1038.7 C416.9 1035.6 420.8 1032.3 424.5 1030.1 C428.2 1027.9 430.3 1026.3 434.2 1025.7 C438.1 1025.1 444.0 1025.5 447.7 1026.5 C451.4 1027.5 453.6 1031.8 456.3 1031.9 C459.0 1032.0 460.8 1027.6 463.6 1027.0 C466.5 1026.4 470.1 1027.3 473.4 1028.4 C476.7 1029.5 478.9 1032.3 483.2 1033.8 C487.5 1035.3 493.8 1038.2 499.1 1037.5 C504.4 1036.8 509.9 1030.9 515.0 1029.7 C520.1 1028.5 524.3 1029.8 529.6 1030.1 C534.9 1030.4 542.3 1030.9 546.8 1031.4 C551.3 1031.9 553.8 1034.0 556.6 1033.3 C559.5 1032.6 560.6 1029.4 563.9 1027.0 C567.1 1024.6 571.6 1022.1 576.1 1019.1 C580.6 1016.1 585.9 1010.5 590.8 1008.9 C595.7 1007.3 601.4 1007.9 605.5 1009.4 C609.6 1010.9 612.4 1017.7 615.3 1017.9 C618.1 1018.1 619.4 1012.4 622.6 1010.6 C625.9 1008.9 631.1 1007.7 634.8 1007.4 C638.5 1007.1 640.5 1007.6 644.6 1008.9 C648.7 1010.2 654.4 1013.7 659.3 1015.0 C664.2 1016.3 669.1 1015.6 674.0 1016.7 C678.9 1017.8 683.5 1019.4 688.6 1021.6 C693.7 1023.8 699.6 1028.0 704.5 1029.7 C709.4 1031.4 713.8 1032.9 718.0 1031.9 C722.2 1031.0 725.9 1025.9 729.8 1024.0 C733.7 1022.1 738.2 1020.4 741.5 1020.4 C744.8 1020.4 746.5 1022.4 749.4 1024.0 C752.3 1025.6 755.6 1028.9 759.1 1030.1 C762.6 1031.3 767.0 1030.0 770.1 1031.4 C773.2 1032.8 775.4 1038.8 778.0 1038.7 C780.6 1038.6 782.8 1032.9 786.0 1030.9 C789.2 1029.0 793.4 1026.9 797.1 1027.0 C800.8 1027.1 804.2 1028.8 808.1 1031.4 C812.0 1034.0 816.2 1038.5 820.3 1042.4 C824.4 1046.3 828.8 1050.9 832.5 1054.6 C836.2 1058.3 838.2 1061.1 842.3 1064.4 C846.4 1067.7 852.1 1070.9 857.0 1074.2 C861.9 1077.5 866.8 1080.8 871.7 1084.0 C876.6 1087.2 881.4 1090.5 886.3 1093.7 C891.2 1097.0 896.5 1100.1 901.0 1103.5 C905.5 1106.9 909.6 1113.9 913.3 1114.1 C917.0 1114.3 920.1 1108.2 923.0 1104.8 C925.9 1101.4 927.8 1097.6 930.4 1093.7 C933.0 1089.8 935.6 1084.8 938.9 1081.5 C942.2 1078.2 946.1 1074.4 950.0 1074.2 C953.9 1074.0 959.0 1077.0 962.2 1080.3 C965.5 1083.5 967.1 1093.1 969.5 1093.7 C971.9 1094.3 973.9 1087.0 976.8 1084.0 C979.6 1081.0 982.9 1078.5 986.6 1075.4 C990.3 1072.3 995.2 1068.9 998.9 1065.6 C1002.6 1062.3 1004.5 1057.8 1008.6 1055.8 C1012.7 1053.8 1018.4 1052.8 1023.3 1053.4 C1028.2 1054.0 1034.5 1057.9 1038.0 1059.5 C1041.5 1061.1 1040.5 1061.4 1044.4 1062.9 C1048.3 1064.4 1055.8 1066.1 1061.5 1068.3 C1067.2 1070.5 1074.0 1076.4 1078.5 1076.3 C1083.0 1076.2 1084.2 1070.6 1088.3 1067.8 C1092.4 1065.0 1097.2 1060.8 1102.9 1059.3 C1108.6 1057.8 1117.1 1059.3 1122.4 1058.5 C1127.7 1057.7 1130.1 1056.6 1134.6 1054.4 C1139.1 1052.2 1144.0 1048.7 1149.3 1045.4 C1154.6 1042.2 1161.0 1037.8 1166.3 1034.9 C1171.6 1032.1 1176.5 1029.9 1181.0 1028.3 C1185.5 1026.7 1189.5 1025.2 1193.2 1025.1 C1196.9 1025.0 1200.5 1026.2 1202.9 1027.6 C1205.3 1029.0 1206.2 1033.5 1207.8 1033.7 C1209.4 1033.9 1210.3 1029.2 1212.7 1028.8 C1215.1 1028.4 1219.2 1030.1 1222.4 1031.2 C1225.7 1032.3 1228.5 1034.5 1232.2 1035.6 C1235.9 1036.7 1240.3 1036.5 1244.4 1038.0 C1248.5 1039.5 1252.1 1041.7 1256.6 1044.6 C1261.1 1047.5 1266.7 1051.9 1271.2 1055.6 C1275.7 1059.3 1279.1 1063.9 1283.4 1066.6 C1287.7 1069.2 1293.5 1072.3 1296.8 1071.5 C1300.0 1070.7 1300.2 1065.4 1302.9 1061.7 C1305.6 1058.0 1309.5 1052.5 1312.7 1049.5 C1316.0 1046.5 1318.8 1044.7 1322.4 1043.4 C1326.1 1042.1 1331.8 1042.1 1334.6 1041.5 C1337.4 1040.9 1338.1 1039.1 1339.5 1039.8 C1340.9 1040.5 1342.6 1044.9 1343.2 1045.9"/>
<path stroke="#000000" d="M80.4 1167.0 C82.5 1167.1 87.8 1166.9 92.7 1167.5 C97.6 1168.1 104.1 1170.1 109.8 1170.4 C115.5 1170.7 121.6 1169.4 126.9 1169.2 C132.2 1169.0 136.7 1169.1 141.6 1169.2 C146.5 1169.3 151.4 1169.6 156.3 1169.9 C161.2 1170.2 166.5 1170.5 171.0 1171.1 C175.5 1171.7 179.1 1172.0 183.2 1173.6 C187.3 1175.2 191.3 1177.7 195.4 1180.9 C199.5 1184.2 203.5 1189.0 207.6 1193.1 C211.7 1197.2 215.8 1201.3 219.9 1205.4 C224.0 1209.5 228.4 1213.5 232.1 1217.6 C235.8 1221.7 238.6 1225.1 241.9 1229.8 C245.2 1234.5 248.8 1240.2 251.7 1245.7 C254.5 1251.2 256.6 1257.2 259.0 1262.9 C261.4 1268.6 263.8 1275.3 266.4 1280.0 C269.0 1284.7 272.5 1291.2 274.9 1291.0 C277.3 1290.8 278.9 1283.1 281.0 1278.8 C283.1 1274.5 285.1 1268.4 287.2 1265.3 C289.2 1262.2 291.1 1260.2 293.3 1260.4 C295.5 1260.6 298.2 1263.8 300.6 1266.5 C303.1 1269.2 305.6 1276.3 308.0 1276.3 C310.4 1276.3 312.4 1270.2 315.3 1266.5 C318.2 1262.8 321.4 1257.0 325.1 1254.3 C328.8 1251.6 333.6 1252.0 337.3 1250.6 C341.0 1249.2 343.8 1247.3 347.1 1245.7 C350.4 1244.1 352.8 1244.7 356.9 1240.8 C361.0 1236.9 366.6 1227.4 371.5 1222.5 C376.4 1217.6 382.1 1215.0 386.2 1211.5 C390.3 1208.0 391.7 1205.0 396.0 1201.7 C400.3 1198.4 407.4 1195.0 412.2 1191.9 C416.9 1188.9 420.4 1185.9 424.5 1183.4 C428.6 1181.0 433.0 1178.4 436.7 1177.2 C440.4 1176.0 443.4 1176.2 446.5 1176.5 C449.6 1176.8 451.9 1179.0 455.0 1179.0 C458.1 1179.0 461.7 1176.9 464.8 1176.8 C467.9 1176.7 469.9 1177.1 473.4 1178.5 C476.9 1179.9 481.3 1183.2 485.6 1185.1 C489.9 1187.0 495.0 1190.3 499.1 1190.0 C503.2 1189.7 506.6 1184.7 510.1 1183.4 C513.6 1182.1 515.4 1182.0 519.9 1182.1 C524.4 1182.2 532.1 1183.4 537.0 1183.9 C541.9 1184.4 545.7 1184.6 549.2 1185.1 C552.7 1185.6 555.3 1187.6 557.8 1187.0 C560.2 1186.4 560.8 1183.7 563.9 1181.7 C567.0 1179.8 572.4 1177.3 576.1 1175.3 C579.8 1173.2 582.6 1170.8 585.9 1169.4 C589.2 1168.0 592.0 1167.0 595.7 1166.7 C599.4 1166.4 604.5 1166.3 607.9 1167.5 C611.2 1168.7 613.3 1174.0 615.8 1174.1 C618.2 1174.2 619.4 1169.2 622.6 1168.0 C625.8 1166.8 631.1 1166.9 634.8 1166.7 C638.5 1166.5 639.7 1166.1 644.6 1167.0 C649.5 1167.9 658.1 1171.0 664.2 1171.9 C670.3 1172.8 676.4 1171.8 681.3 1172.4 C686.2 1173.0 689.6 1174.1 693.5 1175.3 C697.4 1176.5 700.4 1178.9 704.5 1179.7 C708.6 1180.5 713.8 1181.2 718.0 1180.2 C722.2 1179.2 726.0 1175.1 729.8 1173.6 C733.6 1172.1 737.5 1171.1 740.8 1171.1 C744.1 1171.1 746.1 1172.6 749.4 1173.6 C752.7 1174.6 756.9 1176.6 760.4 1177.2 C763.9 1177.8 767.2 1176.2 770.1 1177.2 C773.0 1178.2 775.5 1182.9 778.0 1182.9 C780.5 1182.9 782.2 1178.5 784.8 1177.2 C787.4 1175.9 789.5 1175.2 793.4 1175.3 C797.3 1175.4 803.2 1176.2 808.1 1177.7 C813.0 1179.2 817.8 1181.7 822.7 1184.1 C827.6 1186.5 832.5 1189.3 837.4 1191.9 C842.3 1194.5 847.6 1197.3 852.1 1199.8 C856.6 1202.2 860.6 1203.8 864.3 1206.6 C868.0 1209.4 871.2 1211.9 874.1 1216.4 C877.0 1220.9 879.1 1227.0 881.4 1233.5 C883.6 1240.0 885.5 1249.6 887.6 1255.5 C889.7 1261.4 891.4 1268.6 893.7 1269.0 C896.0 1269.4 899.3 1257.8 901.5 1258.0 C903.7 1258.2 905.1 1264.6 907.1 1270.2 C909.1 1275.8 911.0 1289.2 913.3 1291.7 C915.5 1294.2 918.4 1289.3 920.6 1284.9 C922.8 1280.5 924.7 1273.2 926.7 1265.3 C928.7 1257.3 930.3 1245.0 932.8 1237.2 C935.2 1229.5 937.9 1223.3 941.4 1218.8 C944.9 1214.3 949.9 1210.3 953.6 1210.3 C957.3 1210.3 960.8 1211.1 963.4 1218.8 C966.0 1226.5 967.5 1253.8 969.5 1256.7 C971.5 1259.6 973.1 1242.7 975.6 1236.0 C978.1 1229.3 980.7 1222.1 984.2 1216.4 C987.7 1210.7 992.3 1206.1 996.4 1201.7 C1000.5 1197.3 1004.9 1192.4 1008.6 1190.0 C1012.3 1187.6 1014.1 1189.0 1018.4 1187.5 C1022.7 1186.0 1029.4 1181.5 1034.6 1180.8 C1039.8 1180.1 1044.6 1181.8 1049.3 1183.2 C1054.0 1184.6 1059.0 1186.5 1062.7 1189.3 C1066.4 1192.1 1068.6 1196.6 1071.2 1200.3 C1073.8 1204.0 1076.0 1210.9 1078.5 1211.3 C1081.0 1211.7 1083.1 1205.4 1085.9 1202.8 C1088.8 1200.2 1091.1 1196.4 1095.6 1195.4 C1100.1 1194.4 1107.0 1197.3 1112.7 1196.7 C1118.4 1196.1 1126.2 1192.6 1129.8 1191.8 C1133.4 1191.0 1131.3 1193.2 1134.6 1191.8 C1137.8 1190.4 1144.0 1186.1 1149.3 1183.2 C1154.6 1180.3 1161.0 1176.6 1166.3 1174.2 C1171.6 1171.8 1176.5 1169.8 1181.0 1168.6 C1185.5 1167.3 1189.5 1166.6 1193.2 1166.7 C1196.9 1166.8 1200.5 1167.4 1202.9 1169.1 C1205.3 1170.8 1206.2 1176.5 1207.8 1176.7 C1209.4 1176.9 1210.3 1171.1 1212.7 1170.3 C1215.1 1169.5 1219.2 1170.4 1222.4 1171.8 C1225.7 1173.2 1228.5 1177.5 1232.2 1178.4 C1235.9 1179.3 1239.9 1176.5 1244.4 1177.1 C1248.9 1177.7 1254.5 1179.5 1259.0 1182.0 C1263.5 1184.5 1267.1 1186.5 1271.2 1191.8 C1275.3 1197.1 1280.4 1209.0 1283.4 1213.7 C1286.5 1218.4 1286.7 1219.4 1289.5 1219.8 C1292.3 1220.2 1295.8 1218.1 1300.5 1216.2 C1305.2 1214.3 1312.3 1211.7 1317.6 1208.4 C1322.9 1205.2 1327.9 1200.9 1332.2 1196.7 C1336.5 1192.5 1341.4 1185.5 1343.2 1183.2"/>
</g>
<g stroke="#000" stroke-width="3.1" fill="none" stroke-linecap="round">
<line x1="166.4" y1="167.6" x2="166.4" y2="159.6"/>
<line x1="254.3" y1="167.6" x2="254.3" y2="150.4"/>
<line x1="342.3" y1="167.6" x2="342.3" y2="159.6"/>
<line x1="430.2" y1="167.6" x2="430.2" y2="150.4"/>
<line x1="518.1" y1="167.6" x2="518.1" y2="159.6"/>
<line x1="606.0" y1="167.6" x2="606.0" y2="150.4"/>
<line x1="694.0" y1="167.6" x2="694.0" y2="159.6"/>
<line x1="781.9" y1="167.6" x2="781.9" y2="150.4"/>
<line x1="869.8" y1="167.6" x2="869.8" y2="159.6"/>
<line x1="957.7" y1="167.6" x2="957.7" y2="150.4"/>
<line x1="1045.6" y1="167.6" x2="1045.6" y2="159.6"/>
<line x1="1133.6" y1="167.6" x2="1133.6" y2="150.4"/>
<line x1="1221.5" y1="167.6" x2="1221.5" y2="159.6"/>
<line x1="1309.4" y1="167.6" x2="1309.4" y2="150.4"/>
<line x1="166.4" y1="330.9" x2="166.4" y2="322.9"/>
<line x1="254.3" y1="330.9" x2="254.3" y2="313.7"/>
<line x1="342.3" y1="330.9" x2="342.3" y2="322.9"/>
<line x1="430.2" y1="330.9" x2="430.2" y2="313.7"/>
<line x1="518.1" y1="330.9" x2="518.1" y2="322.9"/>
<line x1="606.0" y1="330.9" x2="606.0" y2="313.7"/>
<line x1="694.0" y1="330.9" x2="694.0" y2="322.9"/>
<line x1="781.9" y1="330.9" x2="781.9" y2="313.7"/>
<line x1="869.8" y1="330.9" x2="869.8" y2="322.9"/>
<line x1="957.7" y1="330.9" x2="957.7" y2="313.7"/>
<line x1="1045.6" y1="330.9" x2="1045.6" y2="322.9"/>
<line x1="1133.6" y1="330.9" x2="1133.6" y2="313.7"/>
<line x1="1221.5" y1="330.9" x2="1221.5" y2="322.9"/>
<line x1="1309.4" y1="330.9" x2="1309.4" y2="313.7"/>
<line x1="166.4" y1="494.1" x2="166.4" y2="486.1"/>
<line x1="254.3" y1="494.1" x2="254.3" y2="476.9"/>
<line x1="342.3" y1="494.1" x2="342.3" y2="486.1"/>
<line x1="430.2" y1="494.1" x2="430.2" y2="476.9"/>
<line x1="518.1" y1="494.1" x2="518.1" y2="486.1"/>
<line x1="606.0" y1="494.1" x2="606.0" y2="476.9"/>
<line x1="694.0" y1="494.1" x2="694.0" y2="486.1"/>
<line x1="781.9" y1="494.1" x2="781.9" y2="476.9"/>
<line x1="869.8" y1="494.1" x2="869.8" y2="486.1"/>
<line x1="957.7" y1="494.1" x2="957.7" y2="476.9"/>
<line x1="1045.6" y1="494.1" x2="1045.6" y2="486.1"/>
<line x1="1133.6" y1="494.1" x2="1133.6" y2="476.9"/>
<line x1="1221.5" y1="494.1" x2="1221.5" y2="486.1"/>
<line x1="1309.4" y1="494.1" x2="1309.4" y2="476.9"/>
<line x1="166.4" y1="657.3" x2="166.4" y2="649.3"/>
<line x1="254.3" y1="657.3" x2="254.3" y2="640.1"/>
<line x1="342.3" y1="657.3" x2="342.3" y2="649.3"/>
<line x1="430.2" y1="657.3" x2="430.2" y2="640.1"/>
<line x1="518.1" y1="657.3" x2="518.1" y2="649.3"/>
<line x1="606.0" y1="657.3" x2="606.0" y2="640.1"/>
<line x1="694.0" y1="657.3" x2="694.0" y2="649.3"/>
<line x1="781.9" y1="657.3" x2="781.9" y2="640.1"/>
<line x1="869.8" y1="657.3" x2="869.8" y2="649.3"/>
<line x1="957.7" y1="657.3" x2="957.7" y2="640.1"/>
<line x1="1045.6" y1="657.3" x2="1045.6" y2="649.3"/>
<line x1="1133.6" y1="657.3" x2="1133.6" y2="640.1"/>
<line x1="1221.5" y1="657.3" x2="1221.5" y2="649.3"/>
<line x1="1309.4" y1="657.3" x2="1309.4" y2="640.1"/>
<line x1="166.4" y1="820.5" x2="166.4" y2="812.5"/>
<line x1="254.3" y1="820.5" x2="254.3" y2="803.3"/>
<line x1="342.3" y1="820.5" x2="342.3" y2="812.5"/>
<line x1="430.2" y1="820.5" x2="430.2" y2="803.3"/>
<line x1="518.1" y1="820.5" x2="518.1" y2="812.5"/>
<line x1="606.0" y1="820.5" x2="606.0" y2="803.3"/>
<line x1="694.0" y1="820.5" x2="694.0" y2="812.5"/>
<line x1="781.9" y1="820.5" x2="781.9" y2="803.3"/>
<line x1="869.8" y1="820.5" x2="869.8" y2="812.5"/>
<line x1="957.7" y1="820.5" x2="957.7" y2="803.3"/>
<line x1="1045.6" y1="820.5" x2="1045.6" y2="812.5"/>
<line x1="1133.6" y1="820.5" x2="1133.6" y2="803.3"/>
<line x1="1221.5" y1="820.5" x2="1221.5" y2="812.5"/>
<line x1="1309.4" y1="820.5" x2="1309.4" y2="803.3"/>
<line x1="166.4" y1="983.7" x2="166.4" y2="975.7"/>
<line x1="254.3" y1="983.7" x2="254.3" y2="966.5"/>
<line x1="342.3" y1="983.7" x2="342.3" y2="975.7"/>
<line x1="430.2" y1="983.7" x2="430.2" y2="966.5"/>
<line x1="518.1" y1="983.7" x2="518.1" y2="975.7"/>
<line x1="606.0" y1="983.7" x2="606.0" y2="966.5"/>
<line x1="694.0" y1="983.7" x2="694.0" y2="975.7"/>
<line x1="781.9" y1="983.7" x2="781.9" y2="966.5"/>
<line x1="869.8" y1="983.7" x2="869.8" y2="975.7"/>
<line x1="957.7" y1="983.7" x2="957.7" y2="966.5"/>
<line x1="1045.6" y1="983.7" x2="1045.6" y2="975.7"/>
<line x1="1133.6" y1="983.7" x2="1133.6" y2="966.5"/>
<line x1="1221.5" y1="983.7" x2="1221.5" y2="975.7"/>
<line x1="1309.4" y1="983.7" x2="1309.4" y2="966.5"/>
<line x1="166.4" y1="1146.9" x2="166.4" y2="1138.9"/>
<line x1="254.3" y1="1146.9" x2="254.3" y2="1129.7"/>
<line x1="342.3" y1="1146.9" x2="342.3" y2="1138.9"/>
<line x1="430.2" y1="1146.9" x2="430.2" y2="1129.7"/>
<line x1="518.1" y1="1146.9" x2="518.1" y2="1138.9"/>
<line x1="606.0" y1="1146.9" x2="606.0" y2="1129.7"/>
<line x1="694.0" y1="1146.9" x2="694.0" y2="1138.9"/>
<line x1="781.9" y1="1146.9" x2="781.9" y2="1129.7"/>
<line x1="869.8" y1="1146.9" x2="869.8" y2="1138.9"/>
<line x1="957.7" y1="1146.9" x2="957.7" y2="1129.7"/>
<line x1="1045.6" y1="1146.9" x2="1045.6" y2="1138.9"/>
<line x1="1133.6" y1="1146.9" x2="1133.6" y2="1129.7"/>
<line x1="1221.5" y1="1146.9" x2="1221.5" y2="1138.9"/>
<line x1="1309.4" y1="1146.9" x2="1309.4" y2="1129.7"/>
<line x1="78.5" y1="1309.6" x2="78.5" y2="1326.3"/>
<line x1="166.4" y1="1309.6" x2="166.4" y2="1317.5"/>
<line x1="254.3" y1="1309.6" x2="254.3" y2="1326.3"/>
<line x1="342.3" y1="1309.6" x2="342.3" y2="1317.5"/>
<line x1="430.2" y1="1309.6" x2="430.2" y2="1326.3"/>
<line x1="518.1" y1="1309.6" x2="518.1" y2="1317.5"/>
<line x1="606.0" y1="1309.6" x2="606.0" y2="1326.3"/>
<line x1="694.0" y1="1309.6" x2="694.0" y2="1317.5"/>
<line x1="781.9" y1="1309.6" x2="781.9" y2="1326.3"/>
<line x1="869.8" y1="1309.6" x2="869.8" y2="1317.5"/>
<line x1="957.7" y1="1309.6" x2="957.7" y2="1326.3"/>
<line x1="1045.6" y1="1309.6" x2="1045.6" y2="1317.5"/>
<line x1="1133.6" y1="1309.6" x2="1133.6" y2="1326.3"/>
<line x1="1221.5" y1="1309.6" x2="1221.5" y2="1317.5"/>
<line x1="1309.4" y1="1309.6" x2="1309.4" y2="1326.3"/>
</g>
<rect x="1140.6" y="103.8" width="201.6" height="61.1" fill="#fff" stroke="#000" stroke-width="1.3" stroke-linejoin="round"/>
<line x1="1146.9" y1="134.6" x2="1244.2" y2="134.6" stroke="#4a7e20" stroke-width="6.2" stroke-linecap="round"/>
<text transform="translate(1337.7,149.4) scale(1,1.045)" font-size="44.2" text-anchor="end">ZnS</text>
<rect x="1104.6" y="269.6" width="237.6" height="61.0" fill="#fff" stroke="#000" stroke-width="1.3" stroke-linejoin="round"/>
<line x1="1111.6" y1="300.2" x2="1208.1" y2="300.2" stroke="#7ea72c" stroke-width="6.2" stroke-linecap="round"/>
<text transform="translate(1337.7,314.3) scale(1,1.045)" font-size="44.2" text-anchor="end">ZnSM</text>
<rect x="1099.0" y="430.6" width="243.2" height="61.3" fill="#fff" stroke="#000" stroke-width="1.3" stroke-linejoin="round"/>
<line x1="1105.5" y1="461.0" x2="1202.7" y2="461.0" stroke="#78befc" stroke-width="6.2" stroke-linecap="round"/>
<text transform="translate(1337.7,475.7) scale(1,1.045)" font-size="44.2" text-anchor="end">ZnOM</text>
<rect x="1041.8" y="594.2" width="300.4" height="60.6" fill="#fff" stroke="#000" stroke-width="1.3" stroke-linejoin="round"/>
<line x1="1048.8" y1="624.5" x2="1145.7" y2="624.5" stroke="#6e00fa" stroke-width="6.2" stroke-linecap="round"/>
<text transform="translate(1337.7,638.6) scale(1,1.045)" font-size="44.2" text-anchor="end">ZnO-Son</text>
<rect x="1135.3" y="758.7" width="206.9" height="61.3" fill="#fff" stroke="#000" stroke-width="1.3" stroke-linejoin="round"/>
<line x1="1141.7" y1="789.5" x2="1238.9" y2="789.5" stroke="#0000fa" stroke-width="6.2" stroke-linecap="round"/>
<text transform="translate(1337.7,804.2) scale(1,1.045)" font-size="44.2" text-anchor="end">ZnO</text>
<rect x="1100.9" y="919.8" width="241.3" height="62.9" fill="#fff" stroke="#000" stroke-width="1.3" stroke-linejoin="round"/>
<line x1="1107.4" y1="950.4" x2="1204.6" y2="950.4" stroke="#e0801e" stroke-width="6.2" stroke-linecap="round"/>
<text transform="translate(1337.7,964.9) scale(1,1.045)" font-size="44.2" text-anchor="end">ZnOG</text>
<rect x="1186.9" y="1085.0" width="155.3" height="61.7" fill="#fff" stroke="#000" stroke-width="1.3" stroke-linejoin="round"/>
<line x1="1192.9" y1="1115.4" x2="1290.9" y2="1115.4" stroke="#d60000" stroke-width="6.2" stroke-linecap="round"/>
<text transform="translate(1337.7,1129.0) scale(1,1.045)" font-size="44.2" text-anchor="end">G</text>
<rect x="1158.3" y="1246.3" width="183.9" height="61.1" fill="#fff" stroke="#000" stroke-width="1.3" stroke-linejoin="round"/>
<line x1="1164.7" y1="1276.8" x2="1261.9" y2="1276.8" stroke="#000000" stroke-width="6.2" stroke-linecap="round"/>
<text transform="translate(1337.7,1291.7) scale(1,1.045)" font-size="44.2" text-anchor="end">UC</text>
<g stroke="#000" stroke-width="2.7" fill="none">
<rect x="78.5" y="4.6" width="1265.8" height="1305.0" stroke-linejoin="round"/>
<line x1="78.5" y1="167.6" x2="1344.3" y2="167.6"/>
<line x1="78.5" y1="330.9" x2="1344.3" y2="330.9"/>
<line x1="78.5" y1="494.1" x2="1344.3" y2="494.1"/>
<line x1="78.5" y1="657.3" x2="1344.3" y2="657.3"/>
<line x1="78.5" y1="820.5" x2="1344.3" y2="820.5"/>
<line x1="78.5" y1="983.7" x2="1344.3" y2="983.7"/>
<line x1="78.5" y1="1146.9" x2="1344.3" y2="1146.9"/>
<line x1="78.5" y1="1309.6" x2="1344.3" y2="1309.6" stroke-width="3.4"/>
</g>
<text x="38.46" y="1365.00" font-size="36.00">4000</text>
<text x="214.30" y="1365.00" font-size="36.00">3500</text>
<text x="390.14" y="1365.00" font-size="36.00">3000</text>
<text x="565.99" y="1365.00" font-size="36.00">2500</text>
<text x="741.83" y="1365.00" font-size="36.00">2000</text>
<text x="917.67" y="1365.00" font-size="36.00"> 500</text>
<path transform="translate(917.67,1365.00) scale(0.01758,-0.01758)" d="M763 0H583V1147Q518 1085 412.5 1023Q307 961 223 930V1104Q375 1175 489 1276Q603 1377 650 1472H763Z"/>
<text x="1093.51" y="1365.00" font-size="36.00"> 000</text>
<path transform="translate(1093.51,1365.00) scale(0.01758,-0.01758)" d="M763 0H583V1147Q518 1085 412.5 1023Q307 961 223 930V1104Q375 1175 489 1276Q603 1377 650 1472H763Z"/>
<text x="1279.37" y="1365.00" font-size="36.00">500</text>
<text transform="translate(520.3,1438.3) scale(1,1.045)" font-size="43.95">Wavenumber (cm</text>
<text x="864.9" y="1416.7" font-size="26.5">-</text>
<text x="873.72" y="1416.70" font-size="26.50"> </text>
<path transform="translate(873.72,1416.70) scale(0.01294,-0.01294)" d="M763 0H583V1147Q518 1085 412.5 1023Q307 961 223 930V1104Q375 1175 489 1276Q603 1377 650 1472H763Z"/>
<text transform="translate(889.8,1438.3) scale(1,1.045)" font-size="44.2">)</text>
<text transform="translate(34.7,891) rotate(-90) scale(1,1.045)" font-size="44.2">Transmittance (a.u)</text>
<text x="194.62" y="1290.50" font-size="29.60" font-weight="bold">3447</text>
<text x="318.42" y="1299.00" font-size="29.60" font-weight="bold">3343</text>
<text x="464.67" y="1225.20" font-size="29.60" font-weight="bold">28 0</text>
<path transform="translate(497.60,1225.20) scale(0.01445,-0.01445)" d="M760 0H479V1059Q325 915 116 846V1101Q226 1137 355 1237Q484 1338 532 1472H760Z"/>
<text x="551.27" y="1226.70" font-size="29.60" font-weight="bold">2642</text>
<text x="815.62" y="1277.60" font-size="29.60" font-weight="bold"> 688</text>
<path transform="translate(815.62,1277.60) scale(0.01445,-0.01445)" d="M760 0H479V1059Q325 915 116 846V1101Q226 1137 355 1237Q484 1338 532 1472H760Z"/>
<text x="929.12" y="1302.10" font-size="29.60" font-weight="bold"> 6 3</text>
<path transform="translate(929.12,1302.10) scale(0.01445,-0.01445)" d="M760 0H479V1059Q325 915 116 846V1101Q226 1137 355 1237Q484 1338 532 1472H760Z"/>
<path transform="translate(962.05,1302.10) scale(0.01445,-0.01445)" d="M760 0H479V1059Q325 915 116 846V1101Q226 1137 355 1237Q484 1338 532 1472H760Z"/>
<text x="983.82" y="1257.60" font-size="29.60" font-weight="bold"> 425</text>
<path transform="translate(983.82,1257.60) scale(0.01445,-0.01445)" d="M760 0H479V1059Q325 915 116 846V1101Q226 1137 355 1237Q484 1338 532 1472H760Z"/>
<text x="1078.52" y="1238.10" font-size="29.60" font-weight="bold">  54</text>
<path transform="translate(1078.52,1238.10) scale(0.01445,-0.01445)" d="M760 0H479V1059Q325 915 116 846V1101Q226 1137 355 1237Q484 1338 532 1472H760Z"/>
<path transform="translate(1094.99,1238.10) scale(0.01445,-0.01445)" d="M760 0H479V1059Q325 915 116 846V1101Q226 1137 355 1237Q484 1338 532 1472H760Z"/>
</svg></body></html>
